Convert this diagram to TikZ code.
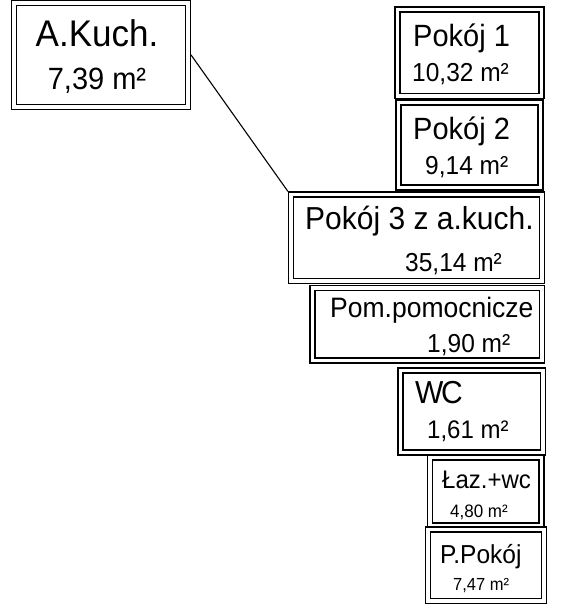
\documentclass[tikz,border=0pt]{standalone}
\usepackage{fontspec}
\setmainfont{Liberation Sans}
\begin{document}
\begin{tikzpicture}[x=1pt,y=-1pt,
  room/.style={draw=black, line width=1.3pt, double=white, double distance=3.6pt, outer sep=3.1pt, inner sep=0pt},
  lbl/.style={anchor=base west, inner sep=0pt, text=black},
  conn/.style={draw=black, line width=1.1pt}]
\useasboundingbox (0,0) rectangle (562,604);
\newcommand{\rbox}[5]{\node[room, minimum width={#4-#2}, minimum height={#5-#3}] (#1) at ({(#2+#4)/2},{(#3+#5)/2}) {};}
\newcommand{\tx}[2]{\fontsize{#1}{#1}\selectfont\scalebox{1}[1.06]{#2}}
\rbox{akuch}{14}{3}{188}{107}
\rbox{p1}{397.5}{9.5}{541.5}{96}
\rbox{p2}{398.5}{102.5}{540.5}{187.5}
\rbox{p3}{291}{194.5}{542}{281}
\rbox{pom}{312.5}{288}{542}{360.5}
\rbox{wc}{400.5}{370.5}{543}{452.5}
\rbox{laz}{430}{457.5}{541.5}{525.5}
\rbox{pp}{428}{529.5}{544}{601}
% texts
\node[anchor=base, inner sep=0pt] (t1) at (97,47) {\tx{35}{A.Kuch.}};
\node[anchor=base, inner sep=0pt] (a1) at (97,90) {\tx{29}{7,39 m²}};
\node[lbl] (t2) at (413,47) {\tx{29}{Pokój 1}};
\node[lbl] (a2) at (412,82) {\tx{24.5}{10,32 m²}};
\node[lbl] (t3) at (413,140) {\tx{29}{Pokój 2}};
\node[lbl] (a3) at (425,175) {\tx{24.5}{9,14 m²}};
\node[lbl] (t4) at (305,229) {\tx{30}{Pokój 3 z a.kuch.}};
\node[lbl] (a4) at (405,271) {\tx{24.5}{35,14 m²}};
\node[lbl] (t5) at (330,317) {\tx{26.5}{Pom.pomocnicze}};
\node[lbl] (a5) at (427,352) {\tx{24.5}{1,90 m²}};
\node[lbl] (t6) at (415,403) {\tx{30}{W\kern-2.5pt C}};
\node[lbl] (a6) at (427,438) {\tx{24}{1,61 m²}};
\node[lbl] (t7) at (442,488) {\tx{24}{Łaz.+wc}};
\node[lbl] (a7) at (450,517) {\tx{17}{4,80 m²}};
\node[lbl] (t8) at (440,563) {\tx{24.5}{P.Pokój}};
\node[lbl] (a8) at (453,590) {\tx{16.5}{7,47 m²}};
\draw[conn] (akuch.east) -- (p3.north west);
\end{tikzpicture}
\end{document}
